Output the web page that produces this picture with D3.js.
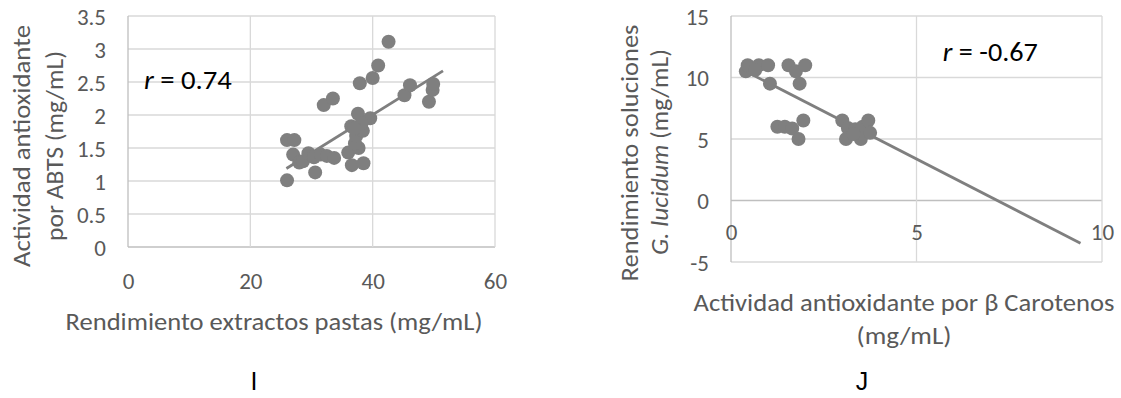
<!DOCTYPE html>
<html>
<head>
<meta charset="utf-8">
<script src="https://cdn.jsdelivr.net/npm/d3@7"></script>
<style>
  html, body { margin: 0; padding: 0; background: #fff; }
  svg { display: block; }
  text { font-family: Carlito, Calibri, "Open Sans", sans-serif; }
</style>
</head>
<body>
<svg id="chart" width="1121" height="398"></svg>
<script>
// ---- Panel I: ABTS activity vs. paste extract yield ----
const extractYield = [26.0, 27.2, 26.0, 27.0, 28.0, 28.6, 29.5, 30.6, 30.4, 31.5, 32.5, 33.7,
  32.0, 33.5, 36.0, 36.6, 38.5, 37.7, 37.1, 37.3, 36.5, 38.4, 37.6, 39.6, 38.2, 37.9,
  40.0, 40.9, 42.6, 45.2, 46.1, 49.2, 49.8, 49.9, 37.0];
const abtsActivity = [1.62, 1.62, 1.01, 1.40, 1.28, 1.30, 1.42, 1.13, 1.36, 1.40, 1.38, 1.35,
  2.15, 2.25, 1.43, 1.24, 1.27, 1.50, 1.57, 1.68, 1.83, 1.76, 2.02, 1.95, 1.88, 2.48,
  2.56, 2.75, 3.11, 2.30, 2.45, 2.20, 2.38, 2.47, 1.80];
const trendI = { slope: 0.0578, intercept: -0.307, from: 25.9, to: 51.5 };
const xTicksI = [0, 20, 40, 60];
const yTicksI = [0, 0.5, 1, 1.5, 2, 2.5, 3, 3.5];
const rLabelI = "0.74";

// ---- Panel J: G. lucidum solution yield vs. beta-carotene activity ----
const caroteneActivity = [0.40, 0.45, 0.75, 1.00, 0.65, 1.05, 1.55, 1.75, 2.00, 1.85,
  1.25, 1.45, 1.65, 1.95, 1.82, 3.00, 3.15, 3.35, 3.55, 3.70, 3.10, 3.50, 3.75, 3.30];
const solutionYield = [10.5, 11.0, 11.0, 11.0, 10.6, 9.5, 11.0, 10.5, 11.0, 9.5,
  6.0, 6.0, 5.85, 6.5, 5.0, 6.5, 5.9, 5.8, 6.0, 6.5, 5.0, 5.0, 5.5, 5.4];
const trendJ = { slope: -1.549, intercept: 11.12, from: 0.38, to: 9.42 };
const xTicksJ = [0, 5, 10];
const yTicksJ = [-5, 0, 5, 10, 15];
const rLabelJ = "-0.67";

const GRID = "#d9d9d9", AXIS = "#bfbfbf", TEXT = "#595959", MARK = "#7f7f7f";
const svg = d3.select("#chart");
const fmt = d => String(d);

function panel(cfg) {
  const g = svg.append("g");
  const x = d3.scaleLinear().domain(cfg.xDomain).range(cfg.xRange);
  const y = d3.scaleLinear().domain(cfg.yDomain).range(cfg.yRange);

  // gridlines
  g.append("g").selectAll("line").data(cfg.yTicks).join("line")
    .attr("x1", cfg.xRange[0]).attr("x2", cfg.xRange[1])
    .attr("y1", d => y(d)).attr("y2", d => y(d))
    .attr("stroke", d => d === 0 ? AXIS : GRID).attr("stroke-width", 1.3);
  g.append("g").selectAll("line").data(cfg.xTicks).join("line")
    .attr("x1", d => x(d)).attr("x2", d => x(d))
    .attr("y1", cfg.yRange[0]).attr("y2", cfg.yRange[1])
    .attr("stroke", d => d === 0 ? AXIS : GRID).attr("stroke-width", 1.3);

  // axes (tick labels only)
  const yAxis = d3.axisLeft(y).tickValues(cfg.yTicks).tickFormat(fmt).tickSize(0).tickPadding(0);
  g.append("g").attr("transform", `translate(${cfg.yLabelX},0)`).call(yAxis)
    .call(a => a.select(".domain").remove())
    .selectAll("text").attr("fill", TEXT).attr("font-size", 23)
    .attr("dy", "0.35em");
  const xAxis = d3.axisBottom(x).tickValues(cfg.xTicks).tickFormat(fmt).tickSize(0).tickPadding(0);
  g.append("g").attr("transform", `translate(0,${cfg.xLabelY})`).call(xAxis)
    .call(a => a.select(".domain").remove())
    .selectAll("text").attr("fill", TEXT).attr("font-size", 23)
    .attr("dy", "0.35em").attr("y", 0);

  // trendline
  const t = cfg.trend;
  g.append("line")
    .attr("x1", x(t.from)).attr("y1", y(t.slope * t.from + t.intercept))
    .attr("x2", x(t.to)).attr("y2", y(t.slope * t.to + t.intercept))
    .attr("stroke", MARK).attr("stroke-width", 2.75);

  // points
  g.append("g").selectAll("circle").data(cfg.xs).join("circle")
    .attr("cx", d => x(d)).attr("cy", (d, i) => y(cfg.ys[i]))
    .attr("r", 7).attr("fill", MARK);

  // correlation label
  const r = g.append("text")
    .attr("x", x(cfg.rPos[0])).attr("y", y(cfg.rPos[1]))
    .attr("dy", "0.35em").attr("font-size", 27).attr("fill", "#000")
    .attr("textLength", cfg.rWidth).attr("lengthAdjust", "spacingAndGlyphs");
  r.append("tspan").attr("font-style", "italic").text("r");
  r.append("tspan").text(" = " + cfg.rText);
  return { x, y };
}

panel({
  xDomain: [0, 60], xRange: [128, 495], yDomain: [0, 3.5], yRange: [247, 16],
  xTicks: xTicksI, yTicks: yTicksI, yLabelX: 106, xLabelY: 281,
  xs: extractYield, ys: abtsActivity, trend: trendI,
  rText: rLabelI, rPos: [2.6, 2.53], rWidth: 88
});

panel({
  xDomain: [0, 10], xRange: [731, 1102], yDomain: [-5, 15], yRange: [262, 16],
  xTicks: xTicksJ, yTicks: yTicksJ, yLabelX: 709, xLabelY: 232,
  xs: caroteneActivity, ys: solutionYield, trend: trendJ,
  rText: rLabelJ, rPos: [5.71, 12.1], rWidth: 95
});

// axis titles
function title(lines) {
  lines.forEach(l => {
    const t = svg.append("text")
      .attr("transform", `translate(${l.x},${l.y}) rotate(${l.rot || 0})`)
      .attr("text-anchor", "middle").attr("dy", "0.35em")
      .attr("font-size", 24).attr("fill", TEXT);
    l.parts.forEach(p => t.append("tspan").attr("font-style", p.i ? "italic" : null).text(p.s));
    if (l.w) t.attr("textLength", l.w).attr("lengthAdjust", "spacingAndGlyphs");
  });
}
title([
  { x: 274, y: 322, w: 417, parts: [{ s: "Rendimiento extractos pastas (mg/mL)" }] },
  { x: 22, y: 146, rot: -90, w: 242, parts: [{ s: "Actividad antioxidante" }] },
  { x: 55, y: 146, rot: -90, w: 190, parts: [{ s: "por ABTS (mg/mL)" }] },
  { x: 630, y: 153, rot: -90, w: 257, parts: [{ s: "Rendimiento soluciones" }] },
  { x: 660, y: 152, rot: -90, w: 206, parts: [{ s: "G. lucidum", i: true }, { s: " (mg/mL)" }] },
  { x: 904, y: 303, w: 421, parts: [{ s: "Actividad antioxidante por β Carotenos" }] },
  { x: 904, y: 336, w: 95, parts: [{ s: "(mg/mL)" }] }
]);

// panel letters
svg.selectAll("text.panel").data([{ s: "I", x: 254 }, { s: "J", x: 862 }]).join("text")
  .attr("class", "panel").attr("x", d => d.x).attr("y", 381)
  .attr("text-anchor", "middle").attr("dy", "0.35em")
  .style("font-family", "'Liberation Sans', Arial, sans-serif")
  .attr("font-size", 25).attr("fill", "#000").text(d => d.s);
</script>
</body>
</html>
